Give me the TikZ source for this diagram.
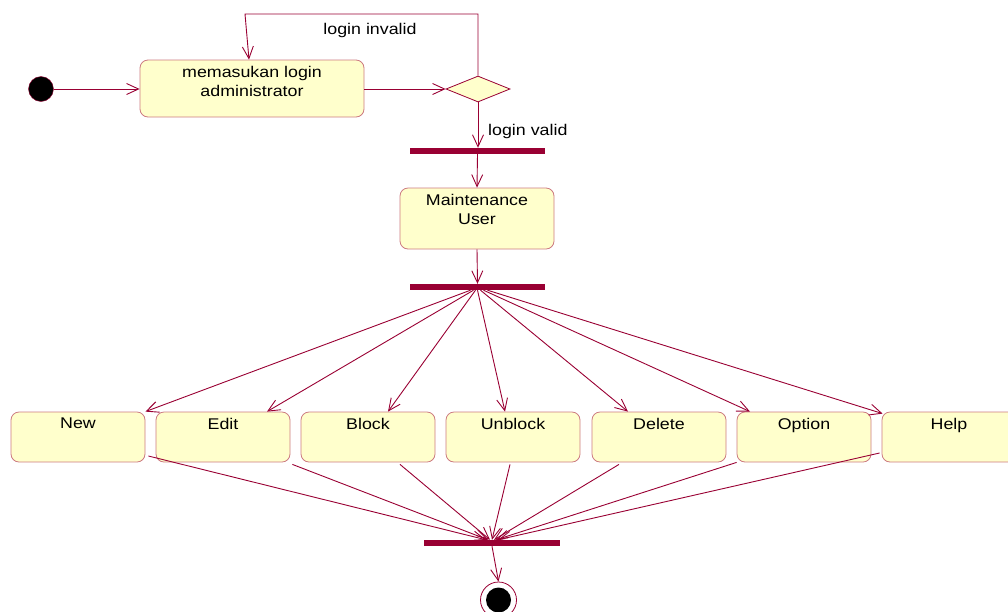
\documentclass[tikz,border=0pt]{standalone}
\usepackage{fontspec}
\setmainfont{Liberation Sans}[FakeStretch=1.15]
\usetikzlibrary{arrows.meta,shapes.geometric,calc}
\definecolor{crim}{HTML}{990033}
\definecolor{boxbd}{HTML}{CC7A80}
\definecolor{boxfill}{HTML}{FFFFCC}
\newcommand\bxt[3]{\parbox[c][#2][t]{#1}{\centering\vspace*{6pt}#3\par}}
\begin{document}
\begin{tikzpicture}[x=1pt,y=-1pt,
  font=\fontsize{15.5}{19}\selectfont,
  act/.style={draw=boxbd, fill=boxfill, rounded corners=8pt, inner sep=0pt, line width=0.8pt},
  bar/.style={fill=crim, draw=none, minimum width=135pt, minimum height=6pt, inner sep=0pt},
  flow/.style={draw=crim, line width=0.9pt, -{Straight Barb[length=12pt,width=11pt,line width=0.9pt]}},
  txt/.style={inner sep=0pt}
]
\useasboundingbox (0,0) rectangle (1008,611);
\node[circle, fill=black, draw=crim, minimum size=25pt, inner sep=0pt] (init) at (41,89) {};
\node[act] (login) at (252,88.5) {\bxt{224pt}{57pt}{memasukan login\\administrator}};
\node[diamond, draw=crim, fill=boxfill, minimum width=64pt, minimum height=26pt, inner sep=0pt, line width=0.8pt] (dec) at (478,89) {};
\node[bar] (f1) at (477.5,151) {};
\node[act] (mu) at (477,218.5) {\bxt{154pt}{61pt}{Maintenance\\User}};
\node[bar] (f2) at (477.5,287) {};
\node[act] (new) at (78,437) {\bxt{134pt}{50pt}{New}};
\node[act] (edit) at (223,437) {\bxt{134pt}{50pt}{Edit}};
\node[act] (block) at (368,437) {\bxt{134pt}{50pt}{Block}};
\node[act] (unblock) at (513,437) {\bxt{134pt}{50pt}{Unblock}};
\node[act] (delete) at (659,437) {\bxt{134pt}{50pt}{Delete}};
\node[act] (option) at (804,437) {\bxt{134pt}{50pt}{Option}};
\node[act] (help) at (949,437) {\bxt{134pt}{50pt}{Help}};
\node[bar, minimum width=136pt] (f3) at (492,543) {};
\node[circle, draw=crim, fill=white, minimum size=36pt, inner sep=0pt, line width=0.8pt] (fin) at (498.5,600) {};
\node[circle, fill=black, minimum size=25pt, inner sep=0pt] (fininner) at (fin) {};

\node[txt] (linv) at (370,30) {login invalid};
\node[txt, anchor=west] (lval) at (488,131) {login valid};

\draw[flow] (init.east) -- (init.east -| login.west);
\draw[flow] (login.east |- dec) -- (dec.west);
\coordinate (lt) at (245,14);
\draw[flow] (dec.north) |- (lt) -- ($(login.north)+(-3,0)$);
\draw[flow] (dec.south) -- (dec.south |- f1.north);
\draw[flow] (f1.south) -- (mu.north);
\draw[flow] (mu.south) -- (f2.north);

\draw[flow] ($(f2.south)+(-7,0)$) -- (new.north east);
\draw[flow] ($(f2.south)+(-4,0)$) -- ($(edit.north)+(44,0)$);
\draw[flow] ($(f2.south)+(-2,0)$) -- ($(block.north)+(20,0)$);
\draw[flow] ($(f2.south)+(0,0)$) -- ($(unblock.north)+(-8,0)$);
\draw[flow] ($(f2.south)+(3,0)$) -- ($(delete.north)+(-31,0)$);
\draw[flow] ($(f2.south)+(6,0)$) -- ($(option.north)+(-54,0)$);
\draw[flow] ($(f2.south)+(10,0)$) -- ($(help.north west)+(1,2)$);

\draw[flow] ($(new.east)+(3,19)$) -- ($(f3.north)+(-6,0)$);
\draw[flow] ($(edit.south east)+(2,2)$) -- ($(f3.north)+(-4,0)$);
\draw[flow] ($(block.south)+(32,2)$) -- ($(f3.north)+(-2,0)$);
\draw[flow] ($(unblock.south)+(-3,2)$) -- ($(f3.north)+(0,0)$);
\draw[flow] ($(delete.south)+(-40,2)$) -- ($(f3.north)+(2,0)$);
\draw[flow] (option.south west) -- ($(f3.north)+(4,0)$);
\draw[flow] ($(help.west)+(-2,16)$) -- ($(f3.north)+(6,0)$);

\draw[flow] (f3.south) -- (fin.north);
\end{tikzpicture}
\end{document}
